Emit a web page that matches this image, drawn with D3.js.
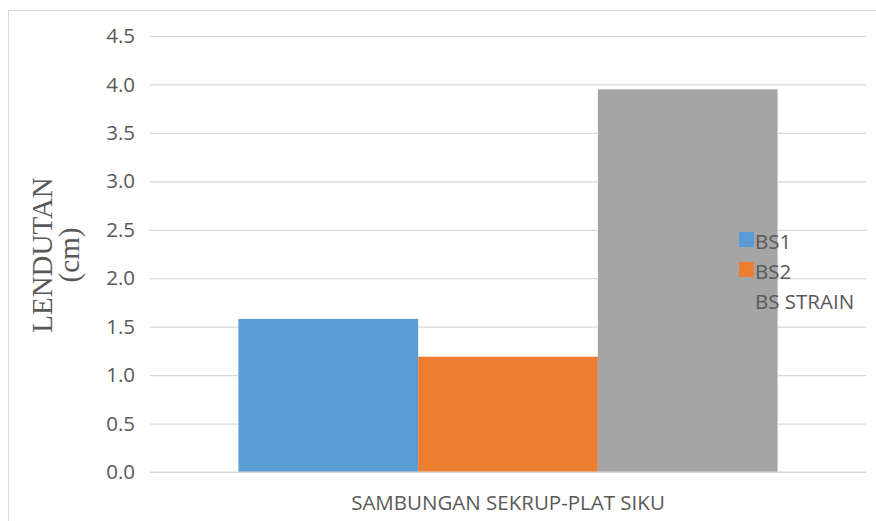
<!DOCTYPE html>
<html>
<head>
<meta charset="utf-8">
<script src="https://cdn.jsdelivr.net/npm/d3@7"></script>
<style>
  body { margin: 0; background: #fff; }
  svg { display: block; }
</style>
</head>
<body>
<div id="chart"></div>
<script>
const categories = ["SAMBUNGAN SEKRUP-PLAT SIKU"];
const seriesNames = ["BS1", "BS2", "BS STRAIN"];
const seriesValues = [1.58, 1.19, 3.95];
const seriesColors = ["#5b9bd5", "#ed7d31", "#a5a5a5"];
const yTicks = [0, 0.5, 1, 1.5, 2, 2.5, 3, 3.5, 4, 4.5];

const width = 876, height = 521;
const textFont = "'Open Sans', sans-serif";
const textSize = "20.5px";

const svg = d3.select("#chart").append("svg")
  .attr("width", width)
  .attr("height", height);

// chart frame
svg.append("rect")
  .attr("x", 8.5).attr("y", 10.5)
  .attr("width", width).attr("height", height)
  .attr("fill", "#fff")
  .attr("stroke", "#d9d9d9");

const y = d3.scaleLinear().domain([0, 4.5]).range([472, 36]);
const x0 = d3.scaleBand().domain(categories).range([150, 866]).paddingInner(0).paddingOuter(0.164);
const x1 = d3.scaleBand().domain(seriesNames).range([0, x0.bandwidth()]).padding(0);

// grid + tick labels
const yAxis = svg.append("g")
  .attr("transform", "translate(150,0)")
  .call(d3.axisLeft(y).tickValues(yTicks).tickFormat(d3.format(".1f")).tickSize(-716).tickPadding(15));
yAxis.select(".domain").remove();
yAxis.selectAll(".tick line").attr("stroke", "#d9d9d9").attr("stroke-width", 1.2);
yAxis.selectAll(".tick text")
  .attr("fill", "#595959")
  .style("font-family", textFont)
  .style("font-size", textSize);

// bars
svg.append("g").selectAll("rect")
  .data(seriesValues)
  .join("rect")
  .attr("x", (d, i) => x0(categories[0]) + x1(seriesNames[i]))
  .attr("y", d => y(d))
  .attr("width", x1.bandwidth())
  .attr("height", d => y(0) - y(d))
  .attr("fill", (d, i) => seriesColors[i]);

// x axis baseline
svg.append("line")
  .attr("x1", 150).attr("x2", 866)
  .attr("y1", y(0)).attr("y2", y(0))
  .attr("stroke", "#d9d9d9").attr("stroke-width", 1.2);

// category label
svg.append("text")
  .attr("x", x0(categories[0]) + x0.bandwidth() / 2)
  .attr("y", 510)
  .attr("text-anchor", "middle")
  .attr("fill", "#595959")
  .style("font-family", textFont)
  .style("font-size", textSize)
  .text(categories[0]);

// y title
const title = svg.append("text")
  .attr("transform", "translate(0,255) rotate(-90)")
  .attr("text-anchor", "middle")
  .attr("fill", "#595959")
  .style("font-family", "'Liberation Serif', serif")
  .style("font-size", "29px");
title.append("tspan").attr("x", 0).attr("y", 52).text("LENDUTAN");
title.append("tspan").attr("x", 0).attr("y", 79).text("(cm)");

// legend
const legend = svg.append("g").attr("transform", "translate(739,232)");
const item = legend.selectAll("g")
  .data(seriesNames)
  .join("g")
  .attr("transform", (d, i) => `translate(0,${i * 30})`);
item.append("rect")
  .attr("width", 15).attr("height", 15)
  .attr("fill", (d, i) => seriesColors[i]);
item.append("text")
  .attr("x", 16).attr("y", 16.5)
  .attr("fill", "#595959")
  .style("font-family", textFont)
  .style("font-size", textSize)
  .text(d => d);
</script>
</body>
</html>
